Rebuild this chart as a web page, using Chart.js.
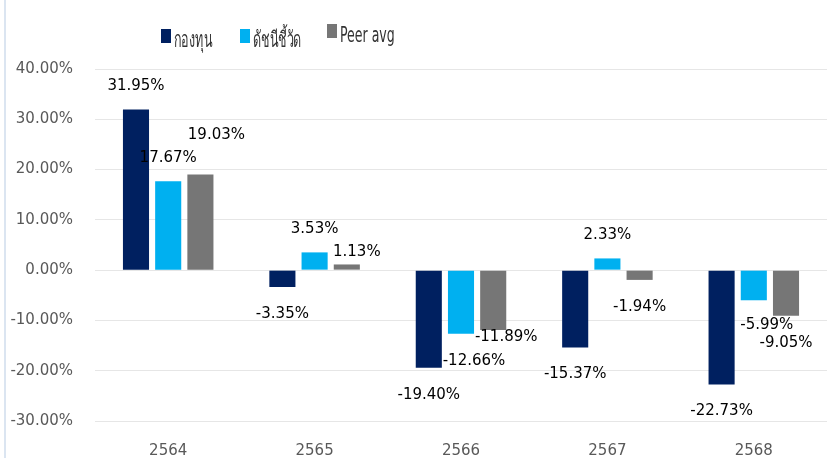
<!DOCTYPE html>
<html>
<head>
<meta charset="utf-8">
<script src="https://cdn.jsdelivr.net/npm/chart.js@4.4.1/dist/chart.umd.min.js"></script>
<style>
  html, body { margin: 0; padding: 0; background: #fff; }
  #wrap { position: relative; width: 827px; height: 458px; overflow: hidden; }
  #wrap::before { content: ""; position: absolute; left: 4px; top: 0; bottom: 0; width: 2px; background: #dbe5f1; }
  canvas { display: block; }
  #legend { position: absolute; top: 18px; left: 0; width: 827px; height: 32px; font-family: Tahoma, "DejaVu Sans", sans-serif; font-size: 22px; color: #333; }
  #legend span.item { position: absolute; top: 0; display: flex; align-items: center; white-space: nowrap; }
  #legend span.box { display: inline-block; width: 10px; height: 14px; margin-right: 3px; }
  #legend span.txt { display: inline-block; position: relative; top: 4px; transform: scaleX(0.57); transform-origin: left center; }
</style>
</head>
<body>
<div id="wrap">
  <canvas id="chart" width="827" height="458"></canvas>
  <div id="legend"></div>
</div>
<script>
const years = ["2564", "2565", "2566", "2567", "2568"];
const fundReturns = [31.95, -3.35, -19.40, -15.37, -22.73];
const benchmarkReturns = [17.67, 3.53, -12.66, 2.33, -5.99];
const peerAvgReturns = [19.03, 1.13, -11.89, -1.94, -9.05];
const seriesNames = ["กองทุน", "ดัชนีชี้วัด", "Peer avg"];
const yTicks = [-30, -20, -10, 0, 10, 20, 30, 40];

const colors = ["#002060", "#00b0f0", "#767676"];
const fontFamily = 'Tahoma, "DejaVu Sans", sans-serif';

// Manual label nudges (like dragged labels in Excel): "dataset-index" -> [dx, dy]
const labelNudge = {
  "2-0": [16, -16],
  "2-1": [10, 11],
  "1-2": [13, 0],
  "2-2": [13, -20],
  "1-4": [13, -2]
};

const valueLabels = {
  id: "valueLabels",
  afterDatasetsDraw(chart) {
    const ctx = chart.ctx;
    ctx.save();
    ctx.font = "15px " + fontFamily;
    ctx.fillStyle = "#000";
    ctx.textAlign = "center";
    ctx.textBaseline = "middle";
    chart.data.datasets.forEach((ds, di) => {
      const meta = chart.getDatasetMeta(di);
      meta.data.forEach((bar, i) => {
        const v = ds.data[i];
        let y = v >= 0 ? bar.y - 23 : bar.y + 27;
        let x = bar.x;
        const n = labelNudge[di + "-" + i];
        if (n) { x += n[0]; y += n[1]; }
        ctx.fillText(v.toFixed(2) + "%", x, y);
      });
    });
    ctx.restore();
  }
};

const datasets = [fundReturns, benchmarkReturns, peerAvgReturns].map((data, i) => ({
  label: seriesNames[i],
  data: data,
  backgroundColor: colors[i],
  borderWidth: 0,
  categoryPercentage: 0.66,
  barPercentage: 0.81
}));

new Chart(document.getElementById("chart").getContext("2d"), {
  type: "bar",
  data: { labels: years, datasets: datasets },
  options: {
    responsive: false,
    animation: false,
    layout: { padding: { top: 69, right: 0, left: 0, bottom: 0 } },
    plugins: {
      legend: { display: false },
      tooltip: { enabled: false }
    },
    scales: {
      x: {
        afterFit: (axis) => { axis.height = 37; },
        grid: { display: false, drawTicks: false },
        border: { display: false },
        ticks: { color: "#595959", font: { family: fontFamily, size: 15 }, padding: 21 }
      },
      y: {
        min: -30,
        max: 40,
        afterBuildTicks: (axis) => { axis.ticks = yTicks.map((v) => ({ value: v })); },
        afterFit: (axis) => { axis.width = 95; },
        grid: { color: "#e6e6e6", drawTicks: false },
        border: { display: false },
        ticks: {
          color: "#595959",
          font: { family: fontFamily, size: 15 },
          padding: 22,
          callback: (v) => v.toFixed(2) + "%"
        }
      }
    }
  },
  plugins: [valueLabels]
});

// legend built from the series
const legend = document.getElementById("legend");
const legendLeft = [161, 240, 327];
seriesNames.forEach((name, i) => {
  const item = document.createElement("span");
  item.className = "item";
  item.style.left = legendLeft[i] + "px";
  item.innerHTML = '<span class="box" style="background:' + colors[i] + '"></span><span class="txt">' + name + '</span>';
  legend.appendChild(item);
});
</script>
</body>
</html>
